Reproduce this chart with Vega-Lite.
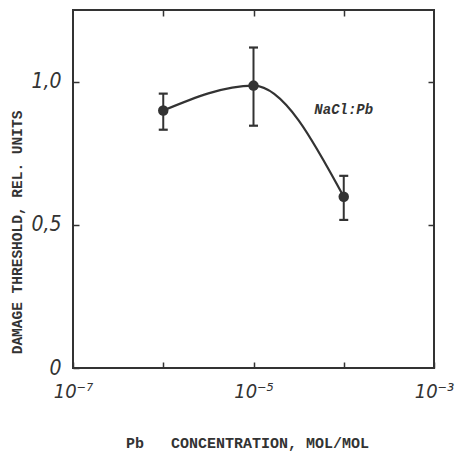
{
  "$schema": "https://vega.github.io/schema/vega-lite/v6.json",
  "width": 361,
  "height": 358,
  "autosize": "none",
  "padding": {"left": 73, "top": 10, "right": 21, "bottom": 85},
  "background": "white",
  "config": {
    "view": {"stroke": "#333", "strokeWidth": 2},
    "axis": {"grid": false, "domain": false, "tickColor": "#333", "tickWidth": 1.5,
      "labelColor": "#333", "titleColor": "#333"}
  },
  "datasets": {
    "pts": [
      {"c": 1e-6, "t": 0.899, "lo": 0.832, "hi": 0.958},
      {"c": 1e-5, "t": 0.986, "lo": 0.846, "hi": 1.119},
      {"c": 1e-4, "t": 0.598, "lo": 0.517, "hi": 0.671}
    ],
    "lab": [{"c": 1e-4, "t": 0.9, "txt": "NaCl:Pb"}]
  },
  "data": {"name": "pts"},
  "layer": [
    {
      "mark": {"type": "line", "interpolate": "monotone", "stroke": "#333", "strokeWidth": 2.2},
      "encoding": {
        "x": {"field": "c", "type": "quantitative",
          "scale": {"type": "log", "domain": [1e-7, 1e-3], "nice": false},
          "axis": {"orient": "bottom", "values": [1e-7, 1e-6, 1e-5, 1e-4, 1e-3],
            "tickSize": -6, "labelPadding": 19, "labelFont": "DejaVu Sans Condensed",
            "labelFontStyle": "italic", "labelFontSize": 20, "labelFontWeight": "normal",
            "labelFlush": false, "labelOverlap": false,
            "labelExpr": "round(log(datum.value)/LN10) == -7 ? '10⁻⁷' : round(log(datum.value)/LN10) == -5 ? '10⁻⁵' : round(log(datum.value)/LN10) == -3 ? '10⁻³' : ''",
            "title": "Pb\u00a0\u00a0\u00a0CONCENTRATION, MOL/MOL", "titleFont": "Liberation Mono",
            "titleFontSize": 15, "titleFontWeight": "bold", "titleX": 174, "titleY": 74,
            "titleBaseline": "middle"}},
        "y": {"field": "t", "type": "quantitative",
          "scale": {"domain": [0, 1.25], "nice": false, "zero": true},
          "axis": {"orient": "left", "values": [0, 0.5, 1.0], "tickSize": -6,
            "labelPadding": 18, "labelFont": "DejaVu Sans Condensed", "labelFontStyle": "italic",
            "labelFontSize": 21, "labelFontWeight": "normal", "labelFlush": false, "labelOverlap": false,
            "labelExpr": "datum.value == 0 ? '0' : replace(format(datum.value, '.1f'), '.', ',')",
            "title": "DAMAGE THRESHOLD, REL. UNITS", "titleFont": "Liberation Mono",
            "titleFontSize": 14.5, "titleFontWeight": "bold", "titleX": -56, "titleY": 222,
            "titleAngle": -90, "titleBaseline": "middle"}}
      }
    },
    {
      "mark": {"type": "rule", "stroke": "#333", "strokeWidth": 2},
      "encoding": {
        "x": {"field": "c", "type": "quantitative",
          "axis": {"orient": "top", "values": [1e-6, 1e-5, 1e-4], "tickSize": -6,
            "labels": false, "title": null}},
        "y": {"field": "lo", "type": "quantitative",
          "axis": {"orient": "right", "values": [0.5, 1.0], "tickSize": -6,
            "labels": false, "title": null}},
        "y2": {"field": "hi"}
      }
    },
    {
      "mark": {"type": "tick", "orient": "horizontal", "color": "#333", "thickness": 2.2, "size": 9, "opacity": 1},
      "encoding": {
        "x": {"field": "c", "type": "quantitative", "axis": null},
        "y": {"field": "lo", "type": "quantitative", "axis": null}
      }
    },
    {
      "mark": {"type": "tick", "orient": "horizontal", "color": "#333", "thickness": 2.2, "size": 9, "opacity": 1},
      "encoding": {
        "x": {"field": "c", "type": "quantitative", "axis": null},
        "y": {"field": "hi", "type": "quantitative", "axis": null}
      }
    },
    {
      "mark": {"type": "circle", "color": "#333", "size": 110, "opacity": 1},
      "encoding": {
        "x": {"field": "c", "type": "quantitative", "axis": null},
        "y": {"field": "t", "type": "quantitative", "axis": null}
      }
    },
    {
      "data": {"name": "lab"},
      "mark": {"type": "text", "font": "Liberation Mono", "fontSize": 14, "fontWeight": "bold",
        "fontStyle": "italic", "color": "#333", "align": "center", "baseline": "middle"},
      "encoding": {
        "x": {"field": "c", "type": "quantitative", "axis": null},
        "y": {"field": "t", "type": "quantitative", "axis": null},
        "text": {"field": "txt"}
      }
    }
  ],
  "resolve": {"axis": {"x": "independent", "y": "independent"}}
}
